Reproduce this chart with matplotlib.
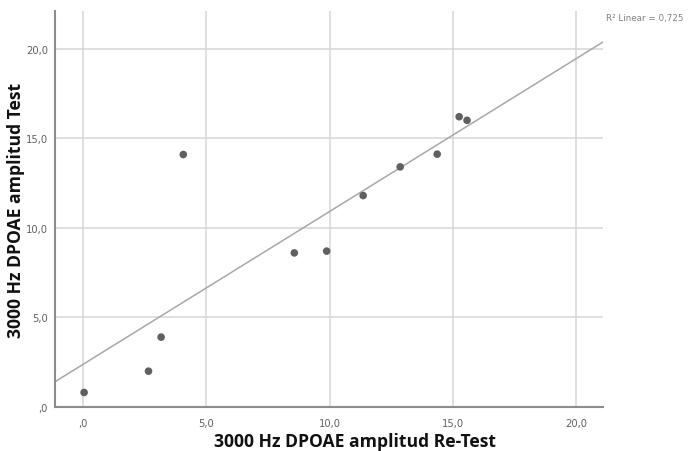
import numpy as np
import matplotlib
matplotlib.use("Agg")
import matplotlib.pyplot as plt
from matplotlib.ticker import FuncFormatter

# Data
retest = [0.05, 2.66, 3.17, 4.07, 8.57, 9.88, 11.36, 12.86, 14.36, 15.25, 15.57]
test = [0.81, 2.0, 3.9, 14.09, 8.6, 8.7, 11.8, 13.4, 14.11, 16.2, 16.0]
ticks = [0, 5, 10, 15, 20]
r2_text = "R² Linear = 0,725"
xlabel = "3000 Hz DPOAE amplitud Re-Test"
ylabel = "3000 Hz DPOAE amplitud Test"


def comma_fmt(v, pos):
    s = "%.1f" % v
    if s.startswith("0"):
        s = s[1:]
    return s.replace(".", ",")


fig = plt.figure(figsize=(6.88, 4.52), dpi=100)
ax = fig.add_axes([55 / 688, 44 / 452, 548 / 688, 396 / 452])

ax.set_xlim(-1.13, 21.08)
ax.set_ylim(0, 22.1)
ax.set_xticks(ticks)
ax.set_yticks(ticks)
ax.xaxis.set_major_formatter(FuncFormatter(comma_fmt))
ax.yaxis.set_major_formatter(FuncFormatter(comma_fmt))
ax.grid(True, color="#d6d6d6", lw=1.1)
ax.set_axisbelow(True)

# Fit line
slope, intercept = np.polyfit(retest, test, 1)
xs = np.array(ax.get_xlim())
ax.plot(xs, intercept + slope * xs, color="#a8a8a8", lw=1.1, zorder=2)

ax.scatter(retest, test, s=30, color="#606060", edgecolors="none", zorder=3)

for side in ["top", "right"]:
    ax.spines[side].set_visible(False)
for side in ["left", "bottom"]:
    ax.spines[side].set_color("#8c8c8c")
    ax.spines[side].set_linewidth(1.5)
ax.tick_params(length=0, labelsize=7.2, labelcolor="#606060")
ax.tick_params(axis="x", pad=8)
ax.tick_params(axis="y", pad=5)

# Axis titles
fig.text(355 / 688, 1 - 442 / 452, xlabel, fontsize=12.6, fontweight="bold",
         family="Open Sans", ha="center", va="center", color="#111111")
fig.text(16 / 688, 1 - 210 / 452, ylabel, fontsize=12.6, fontweight="bold",
         family="Open Sans", ha="center", va="center", rotation=90, color="#111111")

fig.text(606 / 688, 1 - 18 / 452, r2_text, fontsize=6.3, color="#808080", va="center")

fig.savefig("out.png", dpi=100)
